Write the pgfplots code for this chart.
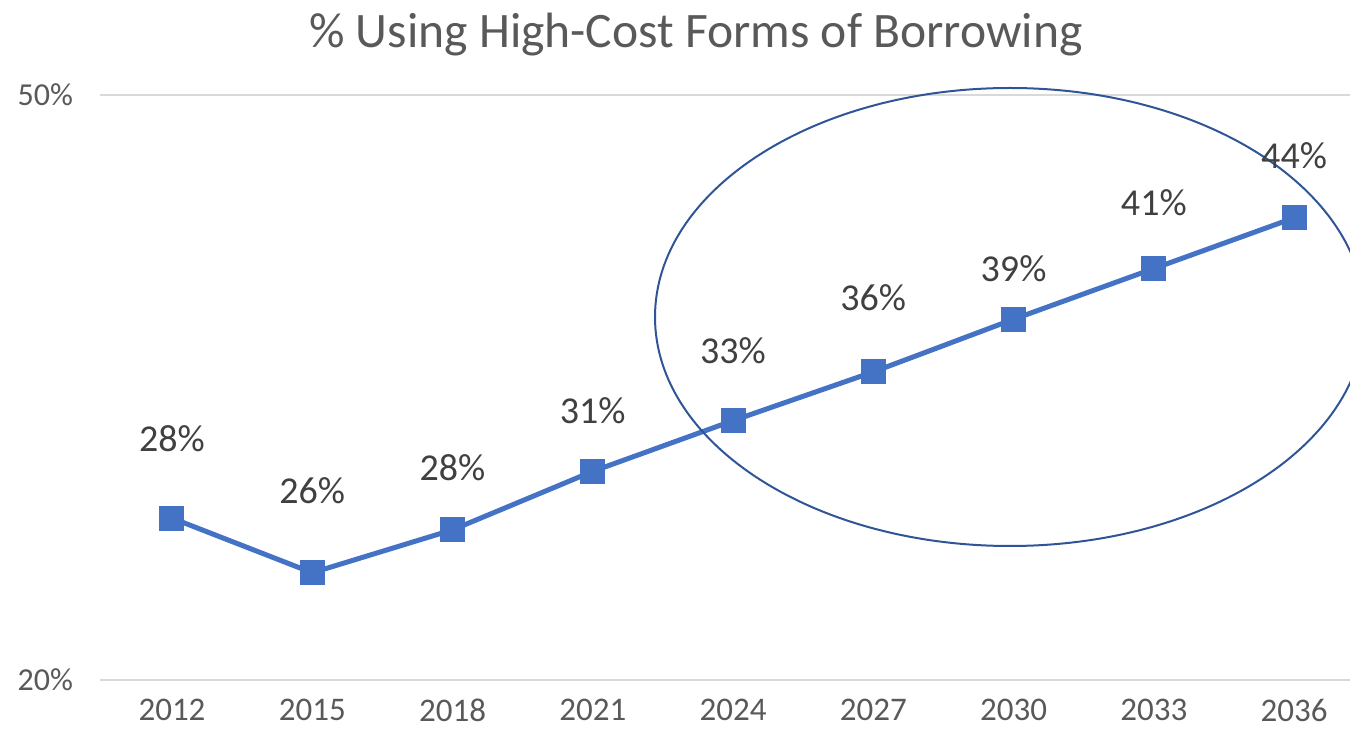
\documentclass[border=0pt]{standalone}
\usepackage{pgfplots}
\pgfplotsset{compat=1.18}
\usepackage{fontspec}
\setmainfont{Carlito}
\definecolor{lineblue}{HTML}{4472C4}
\definecolor{ringblue}{HTML}{2F5597}
\definecolor{gridgrey}{HTML}{D9D9D9}
\definecolor{ticktext}{HTML}{595959}
\definecolor{labeltext}{HTML}{404040}
\begin{document}
\begin{tikzpicture}
\path[use as bounding box, clip] (-50pt,-27pt) rectangle (625pt,340pt);
\begin{axis}[
  scale only axis, width=630pt, height=292.5pt,
  xmin=2010.46, xmax=2037.41, ymin=20, ymax=50,
  axis line style={draw=none},
  clip=false,
  xtick={2012,2015,2018,2021,2024,2027,2030,2033,2036},
  ytick={20,50},
  ymajorgrids, grid style={gridgrey, line width=0.8pt},
  major tick length=0pt,
  /pgf/number format/assume math mode=true,
  xticklabel style={font=\fontsize{16.5}{18}\selectfont, text=ticktext, /pgf/number format/1000 sep={}, yshift=-8.5pt, inner sep=1pt},
  yticklabel={\pgfmathprintnumber{\tick}\%},
  yticklabel style={font=\fontsize{16}{18}\selectfont, text=ticktext, xshift=-10pt},
]
\addplot[lineblue, line width=2.5pt, mark=square*, mark size=6pt,
  mark options={fill=lineblue, draw=lineblue, line width=0pt}]
  coordinates {(2012,28.3) (2015,25.5) (2018,27.7) (2021,30.7) (2024,33.3)
               (2027,35.8) (2030,38.5) (2033,41.1) (2036,43.7)};
% data labels, placed above the points
\addplot[draw=none, mark=none, nodes near coords, point meta=explicit symbolic,
  every node near coord/.style={anchor=center, text=labeltext, font=\fontsize{19}{21}\selectfont}]
  coordinates {(2012,32.4) [28\%] (2015,29.7) [26\%] (2018,30.9) [28\%]
               (2021,33.8) [31\%] (2024,36.9) [33\%] (2027,39.6) [36\%]
               (2030,41.1) [39\%] (2033,44.5) [41\%] (2036,46.9) [44\%]};
\draw[ringblue, line width=1pt] (455pt,181.5pt) ellipse [x radius=177.5pt, y radius=114.5pt];
\node[text=ticktext, font=\fontsize{24.8}{28}\selectfont] at (298pt,322.5pt) {\% Using High-Cost Forms of Borrowing};
\end{axis}
\end{tikzpicture}
\end{document}
